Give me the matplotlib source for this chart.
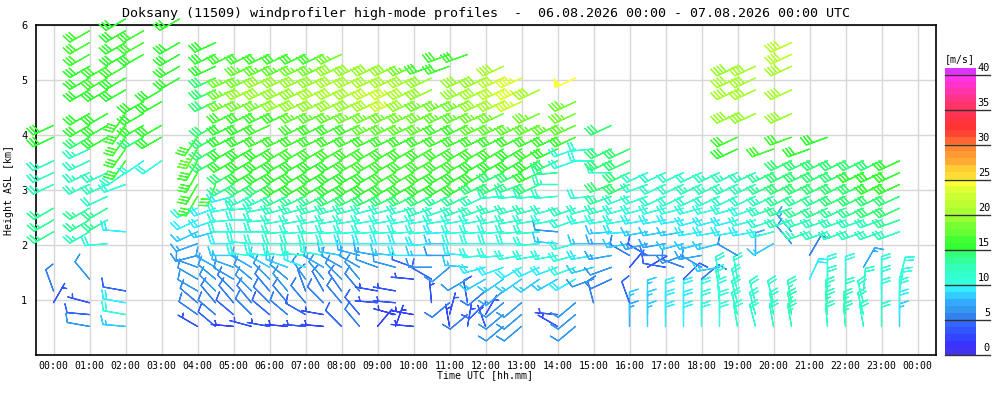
import numpy as np
import matplotlib
matplotlib.use("Agg")
import matplotlib.pyplot as plt
from matplotlib.colors import ListedColormap, BoundaryNorm

plt.rcParams['font.family'] = ['DejaVu Sans Mono']

TITLE = "Doksany (11509) windprofiler high-mode profiles  -  06.08.2026 00:00 - 07.08.2026 00:00 UTC"
XLABEL = "Time UTC [hh.mm]"
YLABEL = "Height ASL [km]"
CBAR_LABEL = "[m/s]"

XTICK_POS = [0, 1, 2, 3, 4, 5, 6, 7, 8, 9, 10, 11, 12, 13, 14, 15, 16, 17, 18, 19, 20, 21, 22, 23, 24]
XTICK_LABELS = ["00:00", "01:00", "02:00", "03:00", "04:00", "05:00", "06:00", "07:00", "08:00",
                "09:00", "10:00", "11:00", "12:00", "13:00", "14:00", "15:00", "16:00", "17:00",
                "18:00", "19:00", "20:00", "21:00", "22:00", "23:00", "00:00"]
YTICKS = [1, 2, 3, 4, 5, 6]
CBAR_TICKS = [0, 5, 10, 15, 20, 25, 30, 35, 40]

# range-gate heights (km ASL)
GATE_HEIGHTS_KM = [0.52, 0.735, 0.95, 1.165, 1.38, 1.595, 1.81, 2.025, 2.24, 2.455, 2.67,
                   2.885, 3.10, 3.315, 3.53, 3.745, 3.96, 4.175, 4.39, 4.605, 4.82, 5.035,
                   5.25, 5.465, 5.68, 5.895, 6.11]

# speed colour scale, one colour per 1 m/s from 0 to 41
SPEED_COLORS = ["#4433ee", "#3a33ff", "#3344ff", "#3355ff", "#3366ff", "#3380ee", "#3399ee",
                "#33aaff", "#33ccff", "#33eeff", "#33ffdd", "#33ffcc", "#33ffbb", "#33ff99",
                "#33ff77", "#33ff33", "#44ff33", "#66ff33", "#77ff33", "#99ff33", "#aaff33",
                "#bbff33", "#ccff33", "#ddff33", "#ffff33", "#ffdd33", "#ffcc33", "#ffaa33",
                "#ff9933", "#ff8833", "#ff6633", "#ff4433", "#ff3333", "#ff3344", "#ff3355",
                "#ff3366", "#ff3388", "#ff33aa", "#ff33cc", "#ff33ee", "#dd33ff"]

# profiles: (gate index, speed m/s, direction deg)
P0000 = [(2,3,30),(3,5,340),(8,13,240),(9,13,240),(10,13,240),(12,12,245),(13,12,245),(14,12,245),(16,15,245),(17,15,245)]
P0030 = []
P0100 = [(0,6,280),(1,4,275),(2,3,285),(4,6,320),(8,12,240),(9,13,240),(10,13,240),(12,12,245),(13,12,245),(14,12,245),(15,12,245),(16,14,240),(17,15,240),(18,15,240),(20,15,240),(21,15,240),(22,15,240),(23,16,240),(24,16,240),(25,16,240)]
P0130 = [(7,10,265),(9,13,240),(10,13,240),(11,11,245),(12,12,245),(13,12,245),(16,15,240),(17,15,240),(18,15,240),(20,15,240),(21,16,240),(22,16,240)]
P0200 = [(0,8,275),(1,10,280),(2,9,280),(3,4,280),(8,9,275),(12,10,250),(13,11,235),(14,15,215),(15,16,215),(16,16,215),(17,16,215),(18,16,215),(20,15,240),(21,15,240),(22,16,240),(23,15,240),(24,15,240),(25,15,240),(26,15,240)]
P0230 = [(14,10,235),(16,14,240),(17,15,240),(18,15,240),(19,15,240),(23,15,240),(24,16,240),(25,16,240)]
P0300 = [(14,10,235),(16,15,240),(17,15,240),(19,15,240),(20,15,240)]
P0330 = [(21,15,240),(22,15,240),(23,15,240),(24,15,240),(26,15,240)]
P0400 = [(0,3,300),(1,5,305),(2,5,310),(3,6,300),(4,6,300),(5,6,290),(6,6,255),(7,7,250),(8,8,245),(9,9,245),(10,10,245),(11,16,210),(12,16,210),(13,16,210),(14,16,210),(15,17,210),(16,16,215)]
P0430 = [(0,4,310),(1,5,310),(2,5,320),(3,6,315),(4,6,310),(5,7,300),(8,8,255),(9,9,250),(10,9,250),(12,16,200),(14,14,240),(15,14,240),(16,14,240),(17,14,240),(19,14,245),(20,14,245),(21,14,245),(22,15,245),(23,15,245),(24,15,245)]
P0500 = [(0,2,275),(1,4,310),(2,5,320),(3,5,315),(4,6,300),(5,7,290),(6,8,270),(7,9,270),(8,10,270),(9,10,265),(10,10,260),(11,9,255),(12,13,240),(13,14,240),(14,15,240),(15,15,240),(16,15,245),(17,15,245),(18,16,245),(19,18,245),(20,18,245),(21,18,245),(23,16,245)]
P0530 = [(0,3,285),(1,5,315),(2,5,320),(3,6,315),(4,6,310),(5,7,300),(6,10,275),(7,10,275),(8,10,270),(9,10,270),(10,11,265),(11,12,245),(12,14,240),(13,15,240),(14,15,240),(15,15,240),(16,15,245),(17,15,245),(18,16,245),(19,18,245),(20,19,245),(21,18,245),(22,17,245),(23,16,245)]
P0600 = [(0,3,280),(1,4,310),(2,5,315),(3,5,320),(4,6,315),(5,8,300),(6,10,275),(7,10,270),(8,11,270),(9,11,265),(10,11,260),(11,12,245),(12,14,240),(13,15,240),(14,15,240),(15,15,240),(16,16,245),(17,16,245),(18,16,245),(19,18,245),(20,19,245),(21,19,245),(22,17,245),(23,16,245)]
P0630 = [(0,2,275),(1,5,310),(2,5,320),(3,6,320),(4,6,310),(5,8,290),(6,10,275),(7,11,270),(8,11,265),(9,11,260),(10,12,255),(11,13,245),(12,15,240),(13,15,240),(14,15,240),(15,16,240),(16,16,245),(18,16,245),(19,19,245),(20,19,245),(21,19,245),(22,17,245),(23,16,245)]
P0700 = [(0,3,275),(1,4,300),(2,5,320),(3,5,340),(4,6,325),(5,9,290),(6,11,275),(7,11,270),(8,10,265),(9,11,260),(10,12,255),(11,13,245),(12,15,240),(13,15,240),(14,15,240),(15,16,240),(16,16,245),(17,16,245),(18,17,245),(19,19,245),(20,19,245),(21,19,245),(22,18,245),(23,16,245)]
P0730 = [(0,2,275),(1,3,280),(2,5,315),(3,5,330),(4,6,320),(5,7,300),(6,10,280),(7,11,270),(8,11,265),(9,11,260),(10,12,255),(11,13,245),(12,15,240),(13,15,240),(14,15,240),(15,16,240),(16,16,245),(17,16,245),(18,17,245),(19,19,245),(20,20,245),(21,19,245),(22,18,245),(23,16,245)]
P0800 = [(0,4,315),(2,5,320),(3,5,325),(4,6,315),(5,6,300),(6,8,280),(7,10,270),(8,10,265),(9,11,260),(10,12,255),(11,14,245),(12,15,240),(13,15,240),(14,15,240),(15,16,240),(16,16,245),(17,16,245),(18,17,245),(19,19,245),(20,20,245),(21,20,245),(22,19,245),(23,18,245)]
P0830 = [(0,5,320),(1,4,320),(3,5,320),(4,6,320),(5,6,300),(6,7,285),(7,9,270),(8,10,265),(9,11,260),(10,12,255),(11,14,245),(12,15,240),(13,15,240),(14,16,240),(15,16,240),(16,16,245),(17,16,245),(18,18,245),(19,19,245),(20,20,245),(21,20,245),(22,19,245)]
P0900 = [(0,2,40),(2,3,275),(3,3,280),(5,6,290),(6,7,280),(7,9,270),(8,10,265),(9,10,260),(10,11,255),(11,14,245),(12,15,240),(13,15,240),(14,16,240),(15,16,240),(16,16,245),(17,17,245),(18,18,245),(19,20,245),(20,21,245),(21,20,245),(22,19,245)]
P0930 = [(0,2,20),(1,2,285),(2,3,275),(3,3,280),(5,6,285),(6,8,275),(7,9,270),(8,10,265),(9,10,260),(10,11,255),(11,14,245),(12,15,240),(13,16,240),(14,16,240),(15,16,240),(16,16,245),(17,17,245),(18,18,245),(19,22,245),(20,22,245),(21,20,245),(22,19,245)]
P1000 = [(0,2,275),(1,2,280),(4,3,275),(5,4,290),(6,9,270),(7,9,270),(8,10,265),(9,10,260),(10,11,255),(11,14,245),(12,15,240),(13,16,240),(14,16,240),(15,16,240),(16,16,245),(17,17,245),(18,18,245),(19,19,245),(20,20,245),(21,20,245),(22,18,245)]
P1030 = [(2,3,355),(4,4,300),(5,6,270),(6,8,270),(7,9,265),(8,10,265),(9,10,260),(10,12,250),(11,14,245),(12,15,240),(13,16,240),(14,16,240),(15,16,240),(16,16,245),(17,17,245),(18,18,245),(19,18,245),(20,19,245),(21,19,245),(22,16,250)]
P1100 = [(0,2,350),(1,3,15),(2,5,230),(5,6,230),(6,6,270),(7,8,270),(8,9,265),(9,10,260),(10,11,250),(11,13,245),(12,15,240),(13,15,240),(14,16,240),(15,16,240),(16,16,245),(17,16,245),(18,17,245),(19,18,245),(22,16,250),(23,16,250)]
P1130 = [(0,3,10),(1,5,230),(2,4,350),(4,6,240),(5,8,275),(6,9,275),(7,10,270),(8,10,265),(9,10,260),(10,12,250),(11,13,245),(12,15,240),(13,15,240),(14,16,240),(15,16,240),(16,16,245),(17,16,245),(18,17,245),(19,18,245),(20,19,245),(21,19,245),(23,16,250)]
P1200 = [(0,3,340),(1,3,30),(2,4,225),(3,5,230),(4,8,240),(5,9,255),(6,10,265),(7,10,270),(8,10,265),(9,10,260),(10,12,250),(11,12,245),(12,14,245),(13,15,240),(14,15,240),(15,16,240),(16,16,245),(17,17,245),(18,18,245),(19,19,245),(20,20,245),(21,19,245)]
P1230 = [(0,6,230),(1,6,230),(2,6,230),(3,7,230),(4,8,235),(5,9,250),(6,10,265),(7,10,270),(8,10,265),(9,11,260),(10,12,255),(11,11,265),(12,14,245),(13,14,245),(14,15,240),(15,16,240),(16,16,245),(17,17,245),(18,18,245),(19,20,245),(20,21,245),(21,21,245),(22,20,245)]
P1300 = [(0,6,230),(1,6,230),(2,6,230),(4,8,235),(5,9,240),(6,10,260),(7,10,270),(8,11,265),(9,11,260),(10,12,255),(11,11,265),(12,13,250),(13,14,245),(14,15,240),(15,15,240),(16,16,245),(17,17,245),(19,22,245),(20,23,245),(21,23,245)]
P1330 = [(4,8,235),(5,9,245),(6,10,260),(7,10,265),(8,11,265),(9,11,260),(10,12,255),(11,11,265),(12,14,245),(13,15,245),(14,15,240),(15,16,240),(16,16,245),(17,17,245),(18,18,245),(20,20,245)]
P1400 = [(0,3,300),(1,3,275),(4,8,240),(5,9,250),(6,10,260),(7,8,275),(8,6,275),(9,10,260),(10,11,255),(11,11,265),(12,12,270),(13,13,265),(14,14,245),(15,15,245),(16,16,245),(17,17,245)]
P1430 = [(0,6,230),(1,6,230),(2,6,230),(4,9,240),(5,10,250),(6,10,255),(7,10,255),(9,11,250),(10,12,250),(14,10,250),(15,10,250),(16,16,245),(17,17,245),(18,18,245),(19,18,245),(21,24,245)]
P1500 = [(2,5,345),(4,6,250),(5,8,255),(6,9,260),(7,8,270),(9,10,260),(10,11,255),(11,10,265),(14,10,270),(15,10,265)]
P1530 = [(4,5,245),(5,6,250),(6,7,260),(7,7,270),(8,8,265),(9,10,260),(10,12,255),(11,13,250),(12,14,250),(13,11,270),(14,14,245),(15,14,245),(17,14,245)]
P1600 = [(0,7,0),(1,8,0),(2,4,340),(5,3,40),(6,5,300),(7,8,260),(8,9,265),(9,10,260),(10,10,255),(11,11,250),(12,14,245),(13,14,245),(14,14,245),(15,14,245)]
P1630 = [(0,8,0),(1,8,0),(2,8,0),(5,3,60),(6,4,300),(7,7,255),(8,8,260),(9,9,260),(10,10,255),(11,11,250),(12,11,250),(13,11,245)]
P1700 = [(0,9,0),(1,9,0),(2,9,0),(5,4,280),(6,5,270),(7,7,260),(8,8,260),(9,9,260),(10,10,255),(11,11,245),(12,11,245),(13,11,245)]
P1730 = [(0,9,0),(1,9,0),(2,9,0),(4,4,45),(5,5,290),(6,6,250),(7,8,255),(8,8,260),(9,9,260),(10,10,255),(11,11,245),(12,11,245),(13,11,245)]
P1800 = [(0,10,0),(1,10,0),(2,10,0),(4,5,50),(5,6,300),(6,7,260),(7,8,255),(8,9,260),(9,9,255),(10,10,255),(11,11,245),(12,12,245),(13,11,245)]
P1830 = [(0,10,0),(1,10,0),(2,10,355),(3,10,350),(4,11,350),(5,8,260),(7,8,255),(8,9,260),(9,9,255),(10,10,255),(11,11,245),(12,12,245),(13,12,245)]
P1900 = [(0,11,350),(1,11,345),(2,11,345),(3,10,345),(4,11,350),(6,6,300),(8,9,260),(9,9,255),(10,10,255),(11,11,245),(12,12,245),(13,12,245),(15,15,245),(16,16,245),(18,19,245),(20,20,245),(21,20,245),(22,19,245)]
P1930 = [(0,11,345),(1,11,345),(2,11,345),(6,7,0),(8,9,260),(9,10,255),(10,10,250),(11,11,245),(12,12,245),(13,12,245),(18,19,245),(20,20,245),(21,20,245),(22,20,245)]
P2000 = [(0,11,350),(1,11,350),(2,11,345),(7,8,240),(8,10,255),(9,11,250),(10,12,250),(11,12,245),(12,13,245),(13,13,245),(15,16,250)]
P2030 = [(0,12,350),(1,12,350),(2,12,350),(7,6,320),(8,7,320),(9,12,250),(10,13,250),(11,13,245),(12,14,245),(13,14,245),(14,14,245),(16,16,250),(18,19,245),(20,20,245),(22,20,245),(23,21,245),(24,21,245)]
P2100 = [(4,9,25),(6,5,30),(8,12,250),(9,12,250),(10,13,245),(11,13,245),(12,14,245),(13,14,245),(14,14,245),(15,15,250)]
P2130 = [(0,11,355),(1,12,355),(2,12,355),(3,11,0),(4,10,0),(8,12,250),(9,12,250),(10,13,245),(11,13,245),(12,14,245),(13,14,245),(14,14,245),(16,15,250)]
P2200 = [(0,12,355),(1,12,355),(2,11,0),(4,10,0),(8,12,250),(9,12,250),(10,13,245),(11,14,245),(12,14,245),(13,14,245),(14,14,245)]
P2230 = [(0,11,350),(1,11,345),(2,11,345),(3,11,5),(5,7,30),(8,12,250),(9,12,250),(10,13,245),(11,14,245),(12,14,245),(13,15,245),(14,14,245)]
P2300 = [(0,11,0),(2,10,0),(3,10,0),(4,10,0),(8,12,250),(9,12,250),(10,14,245),(11,14,245),(12,15,245),(13,15,245),(14,14,245)]
P2330 = [(0,8,0),(1,9,0),(2,10,0),(3,10,10),(4,10,15),(8,12,250),(9,13,250),(10,14,245),(11,14,245),(12,15,245),(13,15,245),(14,15,245)]

PROFILE_TIMES = [0.0, 0.5, 1.0, 1.5, 2.0, 2.5, 3.0, 3.5, 4.0, 4.5, 5.0, 5.5, 6.0, 6.5, 7.0, 7.5,
                 8.0, 8.5, 9.0, 9.5, 10.0, 10.5, 11.0, 11.5, 12.0, 12.5, 13.0, 13.5, 14.0, 14.5,
                 15.0, 15.5, 16.0, 16.5, 17.0, 17.5, 18.0, 18.5, 19.0, 19.5, 20.0, 20.5, 21.0,
                 21.5, 22.0, 22.5, 23.0, 23.5]
PROFILES = [P0000, P0030, P0100, P0130, P0200, P0230, P0300, P0330, P0400, P0430, P0500, P0530,
            P0600, P0630, P0700, P0730, P0800, P0830, P0900, P0930, P1000, P1030, P1100, P1130,
            P1200, P1230, P1300, P1330, P1400, P1430, P1500, P1530, P1600, P1630, P1700, P1730,
            P1800, P1830, P1900, P1930, P2000, P2030, P2100, P2130, P2200, P2230, P2300, P2330]

# ------------------------------------------------------------------
W, H = 1000, 400
fig = plt.figure(figsize=(W / 100, H / 100), dpi=100)
fig.patch.set_facecolor('white')

ax_l, ax_r, ax_t, ax_b = 35.5, 935.5, 25, 355
ax = fig.add_axes([ax_l / W, 1 - ax_b / H, (ax_r - ax_l) / W, (ax_b - ax_t) / H])
ax.set_xlim(-0.5, 24.5)
ax.set_ylim(0, 6)

cmap = ListedColormap(SPEED_COLORS)
norm = BoundaryNorm(np.arange(len(SPEED_COLORS) + 1), len(SPEED_COLORS))

xs, ys, us, vs, cs = [], [], [], [], []
for t, prof in zip(PROFILE_TIMES, PROFILES):
    for g, s, d in prof:
        r = np.deg2rad(d)
        xs.append(t)
        ys.append(GATE_HEIGHTS_KM[g])
        us.append(-s * np.sin(r))
        vs.append(-s * np.cos(r))
        cs.append(s + 0.5)

ax.barbs(xs, ys, us, vs, cs, cmap=cmap, norm=norm, length=5.7, pivot='tip',
         barb_increments=dict(half=2.5, full=5, flag=25),
         sizes=dict(spacing=0.15, height=0.38, width=0.25, emptybarb=0.0),
         linewidth=0.9, clip_on=False, zorder=3)

ax.set_xticks(XTICK_POS)
ax.set_xticklabels(XTICK_LABELS)
ax.set_yticks(YTICKS)
ax.set_yticklabels([str(v) for v in YTICKS])
ax.tick_params(length=0, labelsize=7.1, colors='black')
ax.tick_params(axis='x', pad=4)
ax.tick_params(axis='y', labelsize=7.4, pad=6)
ax.grid(True, color='#d6d6d6', linewidth=1.0, zorder=0)
ax.set_axisbelow(True)
for sp in ax.spines.values():
    sp.set_linewidth(1.2)
    sp.set_color('black')

fig.text(486 / W, 1 - 13 / H, TITLE, ha='center', va='center', fontsize=9.6)
fig.text(485 / W, 1 - 375 / H, XLABEL, ha='center', va='center', fontsize=7.1)
fig.text(9 / W, 1 - 190 / H, YLABEL, ha='center', va='center', rotation=90, fontsize=7.1)

# colour bar
cb_l, cb_r, cb_t, cb_b = 945, 976, 67.7, 355
cax = fig.add_axes([cb_l / W, 1 - cb_b / H, (cb_r - cb_l) / W, (cb_b - cb_t) / H])
cax.imshow(np.arange(len(SPEED_COLORS)).reshape(-1, 1) + 0.5, cmap=cmap, norm=norm,
           aspect='auto', origin='lower', extent=[0, 1, 0, len(SPEED_COLORS)],
           interpolation='nearest')
cax.set_xlim(0, 1)
cax.set_ylim(0, len(SPEED_COLORS))
cax.set_axis_off()
ext = (990 - cb_l) / (cb_r - cb_l)
for v in CBAR_TICKS:
    cax.plot([0, ext], [v, v], color='#333333', linewidth=1.0, clip_on=False)
    cax.text(ext, v + 0.25, str(v), ha='right', va='bottom', fontsize=7.4)
fig.text(cb_l / W, 1 - 59 / H, CBAR_LABEL, ha='left', va='center', fontsize=7.1)

fig.savefig("out.png", dpi=100)
